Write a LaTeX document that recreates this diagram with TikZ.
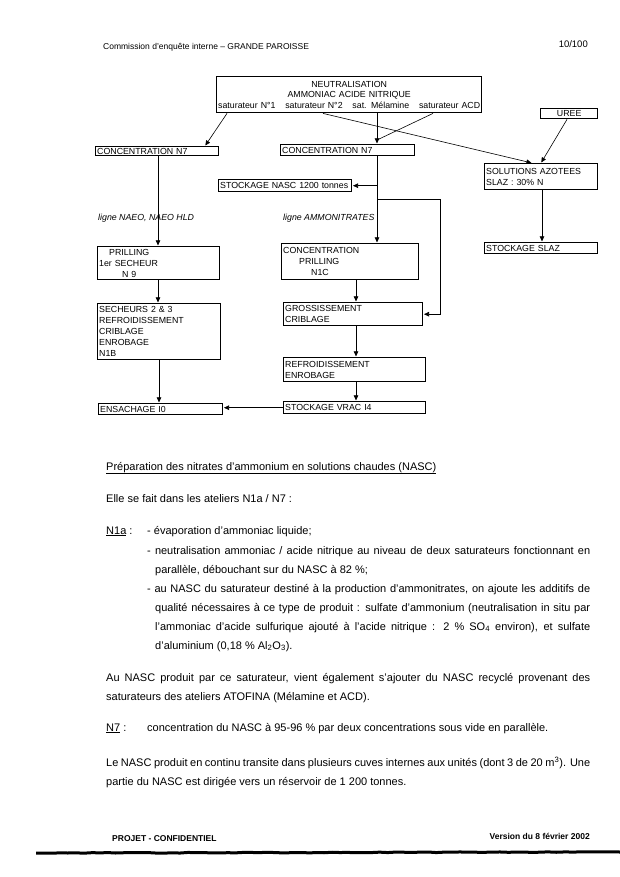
\documentclass[tikz,border=0pt]{standalone}
\usepackage{fontspec}
\setmainfont{Liberation Sans}
\usetikzlibrary{arrows.meta,calc,decorations.pathmorphing}

\begin{document}
\begin{tikzpicture}[x=1pt,y=-1pt,
box/.style={draw,line width=1.4pt,anchor=north west,inner xsep=1.5pt,inner ysep=0pt,align=left,font=\fontsize{8.8}{11}\selectfont},
arr/.style={-{Triangle[length=5pt,width=4.5pt]},line width=.6pt,shorten >=.6pt},
lab/.style={anchor=west,inner sep=0pt,font=\fontsize{8.8}{10}\selectfont\itshape},
txt/.style={anchor=base west,inner sep=0pt,font=\fontsize{11}{19}\selectfont}]
\useasboundingbox[fill=white](0,0)rectangle(620,877);
\node[anchor=base west,inner sep=0pt,font=\fontsize{8.5}{10}\selectfont](hd)at(103,50){Commission d'enquête interne – GRANDE PAROISSE};
\node[anchor=base east,inner sep=0pt,font=\fontsize{9.5}{10}\selectfont](pg)at(588,48){10/100};
\node[box,align=center,text width=262pt,minimum height=36pt,font=\fontsize{8.8}{10.5}\selectfont](neut)at(216,76){NEUTRALISATION\\AMMONIAC ACIDE NITRIQUE\\saturateur N°1\hfill saturateur N°2\hfill sat. Mélamine\hfill saturateur ACD};
\node[box,align=center,text width=54pt,minimum height=10pt](uree)at(540,108){UREE};
\node[box,text width=120pt,minimum height=9pt](concA)at(95,146){CONCENTRATION N7};
\node[box,text width=131pt,minimum height=11pt](concB)at(280,144){CONCENTRATION N7};
\node[box,text width=110pt,minimum height=26pt](sol)at(484,163){SOLUTIONS AZOTEES\\SLAZ : 30\% N};
\node[box,text width=130pt,minimum height=12pt](nasc)at(218,179){STOCKAGE NASC 1200 tonnes};
\node[lab](lA)at(98,218){ligne NAEO, NAEO HLD};\node[lab](lB)at(283,218){ligne AMMONITRATES};
\node[box,text width=119pt,minimum height=33pt](prilA)at(97,246){\hspace*{10pt}PRILLING\\1er SECHEUR\\\hspace*{23pt}N 9};
\node[box,text width=134pt,minimum height=36pt](prilB)at(281,243){CONCENTRATION\\\hspace*{16pt}PRILLING\\\hspace*{28pt}N1C};
\node[box,text width=110pt,minimum height=11pt](slaz)at(484,242){STOCKAGE SLAZ};
\node[box,text width=120pt,minimum height=56pt](sech)at(97,303){SECHEURS 2 \& 3\\REFROIDISSEMENT\\CRIBLAGE\\ENROBAGE\\N1B};
\node[box,text width=136pt,minimum height=23pt](gros)at(283,302){GROSSISSEMENT\\CRIBLAGE};
\node[box,text width=139pt,minimum height=24pt](refr)at(283,357){REFROIDISSEMENT\\ENROBAGE};
\node[box,text width=121pt,minimum height=11pt](ens)at(98,403){ENSACHAGE I0};
\node[box,text width=139pt,minimum height=12pt](vrac)at(283,401){STOCKAGE VRAC I4};
\draw[arr]([xshift=11pt]neut.south west)--([xshift=110pt]concA.north west);
\draw[arr]([xshift=161pt]neut.south west)--([xshift=97pt]concB.north west);
\draw[line width=.6pt]([xshift=217pt]neut.south west)--([xshift=97pt,yshift=4pt]concB.north west);
\draw[arr]([xshift=107pt]neut.south west)--([xshift=48pt]sol.north west);
\draw[arr]([xshift=27pt]uree.south west)--([xshift=57pt]sol.north west);
\coordinate(tr)at([xshift=97pt]concB.south west);\coordinate(bk)at(440,199);
\draw[arr](tr)--(tr|-prilB.north);\draw[arr](tr|-nasc.east)--(nasc.east);
\draw[arr](tr|-bk)--(bk)|-(gros.east);
\draw[arr]([xshift=63pt]concA.south west)--([xshift=61pt]prilA.north west);
\draw[arr]([xshift=61pt]prilA.south west)--([xshift=61pt]sech.north west);
\draw[arr]([xshift=62pt]sech.south west)--([xshift=61pt]ens.north west);
\draw[arr]([xshift=75pt]prilB.south west)--([xshift=73pt]gros.north west);
\draw[arr]([xshift=73pt]gros.south west)--([xshift=73pt]refr.north west);
\draw[arr]([xshift=73pt]refr.south west)--([xshift=73pt]vrac.north west);
\draw[arr](vrac.west)--(vrac.west-|ens.east);
\draw[arr]([xshift=58pt]sol.south west)--([xshift=58pt]slaz.north west);
\node[txt](ti)at(106,470){\underline{Préparation des nitrates d'ammonium en solutions chaudes (NASC)}};
\node[txt](p1)at(106,502){Elle se fait dans les ateliers N1a / N7 :};
\node[txt](na)at(106,534){\underline{N1a} :};
\node[txt](i1)at(147,534){- évaporation d'ammoniac liquide;};
\node[txt](i2)at(147,554){\begin{minipage}[t]{443pt}\hangindent=8pt\hangafter=1 - neutralisation ammoniac / acide nitrique au niveau de deux saturateurs fonctionnant en\linebreak parallèle, débouchant sur du NASC à 82 \%;\end{minipage}};
\node[txt](i3)at(147,592){\begin{minipage}[t]{443pt}\hangindent=8pt\hangafter=1 - au NASC du saturateur destiné à la production d'ammonitrates, on ajoute les additifs de\linebreak qualité nécessaires à ce type de produit : sulfate d'ammonium (neutralisation in situ par\linebreak l'ammoniac d'acide sulfurique ajouté à l'acide nitrique : 2 \% SO\textsubscript{4} environ), et sulfate\linebreak d'aluminium (0,18 \% Al\textsubscript{2}O\textsubscript{3}).\end{minipage}};
\node[txt,text width=484pt,align=justify](p2)at(106,681){Au NASC produit par ce saturateur, vient également s'ajouter du NASC recyclé provenant des\linebreak saturateurs des ateliers ATOFINA (Mélamine et ACD).};
\node[txt](nb)at(106,731){\underline{N7} :};
\node[txt](p3)at(147,731){concentration du NASC à 95-96 \% par deux concentrations sous vide en parallèle.};
\node[txt,text width=484pt,align=justify](p4)at(106,766){Le NASC produit en continu transite dans plusieurs cuves internes aux unités (dont 3 de 20 m\textsuperscript{3}). Une\linebreak partie du NASC est dirigée vers un réservoir de 1~200 tonnes.};
\node[anchor=base west,inner sep=0pt,font=\fontsize{8.5}{10}\bfseries](ft)at(112,841){PROJET - CONFIDENTIEL};
\node[anchor=base east,inner sep=0pt,font=\fontsize{8.5}{10}\bfseries](vd)at(590,839){Version du 8 février 2002};
\draw[line width=3pt,decorate,decoration={random steps,segment length=8pt,amplitude=.35pt}](36,853)--(620,852);
\end{tikzpicture}
\end{document}
